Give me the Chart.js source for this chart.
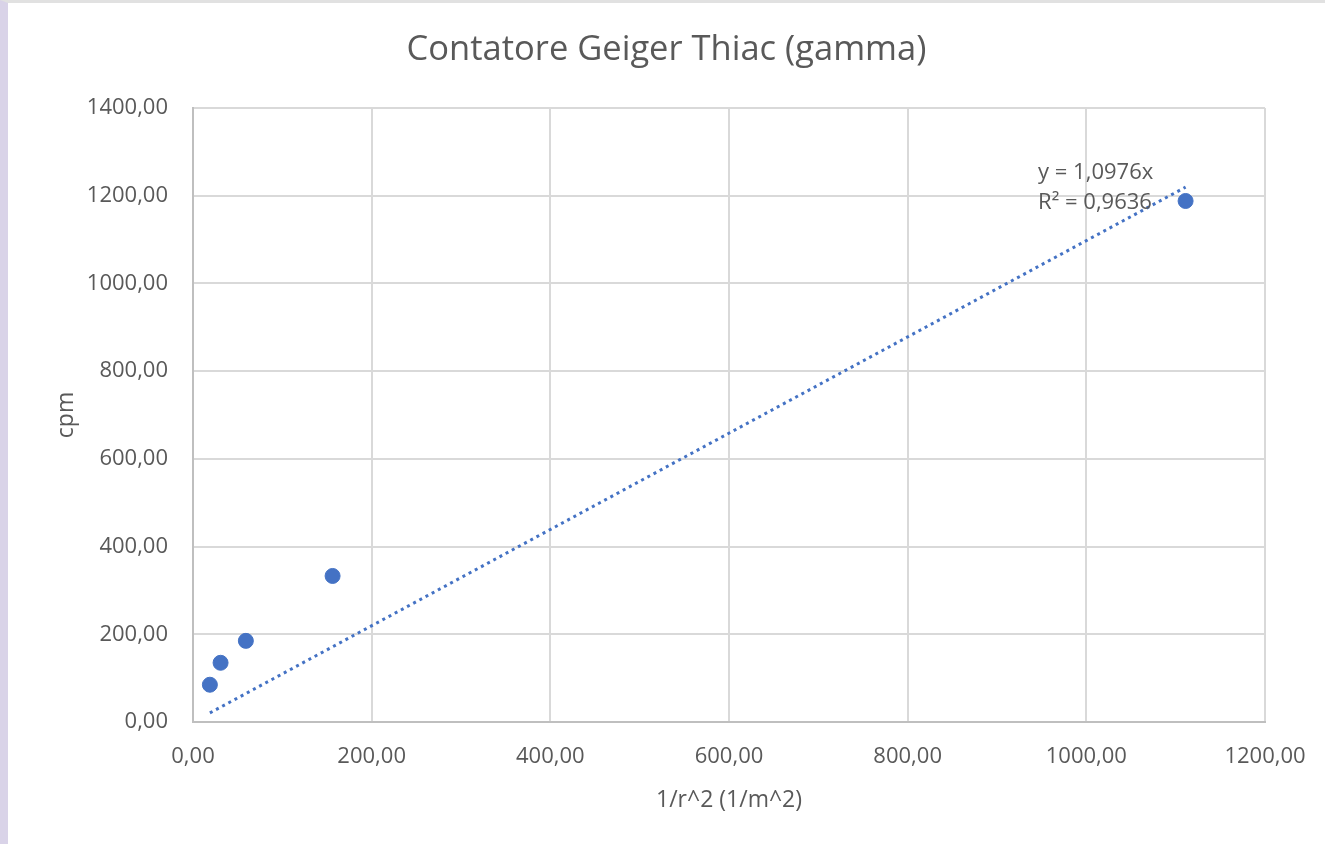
<!DOCTYPE html>
<html lang="it">
<head>
<meta charset="UTF-8">
<title>Contatore Geiger Thiac (gamma)</title>
<script src="https://cdn.jsdelivr.net/npm/chart.js@4.4.1/dist/chart.umd.min.js"></script>
<style>
    html, body { margin: 0; padding: 0; background: #ffffff; }
    .frame {
        position: relative; width: 1325px; height: 844px; overflow: hidden;
        background: #ffffff; box-sizing: border-box;
        border-left: 8px solid #d9d3e8; border-top: 3px solid #e1e1e1;
    }
    #chart { display: block; }
</style>
</head>
<body>
<div class="frame">
    <canvas id="chart" width="1317" height="841"></canvas>
</div>
<script>
    // dati
    const xValues = [18.90, 30.86, 59.17, 156.25, 1111.11];   // 1/r^2 (1/m^2)
    const yValues = [85, 135, 185, 333, 1188];                  // cpm
    const trendX = [18.90, 1111.11];
    const trendY = [20.7, 1219.6];
    const xTickLabels = ['0,00', '200,00', '400,00', '600,00', '800,00', '1000,00', '1200,00'];
    const yTickLabels = ['0,00', '200,00', '400,00', '600,00', '800,00', '1000,00', '1200,00', '1400,00'];
    const trendText = ['y = 1,0976x', 'R² = 0,9636'];

    const FONT = "'Open Sans', 'Noto Sans', sans-serif";
    const GREY = '#595959';
    const BLUE = '#4472c4';

    const points = xValues.map((x, i) => ({ x: x, y: yValues[i] }));
    const trend = trendX.map((x, i) => ({ x: x, y: trendY[i] }));

    // etichetta della linea di tendenza
    const trendLabel = {
        id: 'trendLabel',
        afterDatasetsDraw(chart) {
            const { ctx, scales } = chart;
            ctx.save();
            ctx.font = '22px ' + FONT;
            ctx.fillStyle = GREY;
            ctx.textBaseline = 'middle';
            ctx.textAlign = 'left';
            const x0 = scales.x.getPixelForValue(946);
            ctx.fillText(trendText[0], x0, scales.y.getPixelForValue(1252));
            ctx.fillText(trendText[1], x0, scales.y.getPixelForValue(1183));
            ctx.restore();
        }
    };

    new Chart(document.getElementById('chart'), {
        type: 'scatter',
        data: {
            datasets: [
                {
                    label: 'Tendenza', data: trend, type: 'line', showLine: true,
                    borderColor: BLUE, borderWidth: 3, borderDash: [3, 4],
                    pointRadius: 0, fill: false, order: 2
                },
                {
                    label: 'cpm', data: points,
                    backgroundColor: BLUE, borderColor: BLUE,
                    pointRadius: 7.5, pointHoverRadius: 7.5, order: 1
                }
            ]
        },
        options: {
            responsive: false,
            animation: false,
            layout: { padding: 0 },
            plugins: {
                legend: { display: false },
                tooltip: { enabled: false },
                title: {
                    display: true, text: 'Contatore Geiger Thiac (gamma)',
                    color: GREY, font: { family: FONT, size: 34.5, weight: 'normal', lineHeight: 1.2 },
                    padding: { top: 26, bottom: 37.6 }
                }
            },
            scales: {
                x: {
                    type: 'linear', min: 0, max: 1200,
                    afterFit: s => { s.height = 122; s.paddingLeft = 0; s.paddingRight = 0; },
                    ticks: {
                        stepSize: 200, color: GREY, padding: 22,
                        font: { family: FONT, size: 22 },
                        callback: (v) => xTickLabels[Math.round(v / 200)]
                    },
                    grid: { color: '#d9d9d9', lineWidth: 2, drawTicks: false },
                    border: { color: '#bfbfbf', width: 2 },
                    title: {
                        display: true, text: '1/r^2 (1/m^2)', color: GREY,
                        font: { family: FONT, size: 23, lineHeight: 1.2 },
                        padding: { top: 0, bottom: 30 }
                    }
                },
                y: {
                    type: 'linear', min: 0, max: 1400,
                    afterFit: s => { s.width = 185; s.paddingTop = 0; s.paddingBottom = 0; },
                    ticks: {
                        stepSize: 200, color: GREY, padding: 25,
                        font: { family: FONT, size: 22 },
                        callback: (v) => yTickLabels[Math.round(v / 200)]
                    },
                    grid: { color: '#d9d9d9', lineWidth: 2, drawTicks: false },
                    border: { color: '#bfbfbf', width: 2 },
                    title: {
                        display: true, text: 'cpm', color: GREY,
                        font: { family: FONT, size: 23, lineHeight: 1.2 },
                        padding: { top: 45, bottom: 0 }
                    }
                },
                // spazio vuoto a destra dell'area del grafico
                yRight: {
                    type: 'linear', position: 'right', min: 0, max: 1,
                    afterFit: s => { s.width = 60; s.paddingTop = 0; s.paddingBottom = 0; },
                    ticks: { display: false },
                    grid: { display: false },
                    border: { display: false }
                }
            }
        },
        plugins: [trendLabel]
    });
</script>
</body>
</html>
